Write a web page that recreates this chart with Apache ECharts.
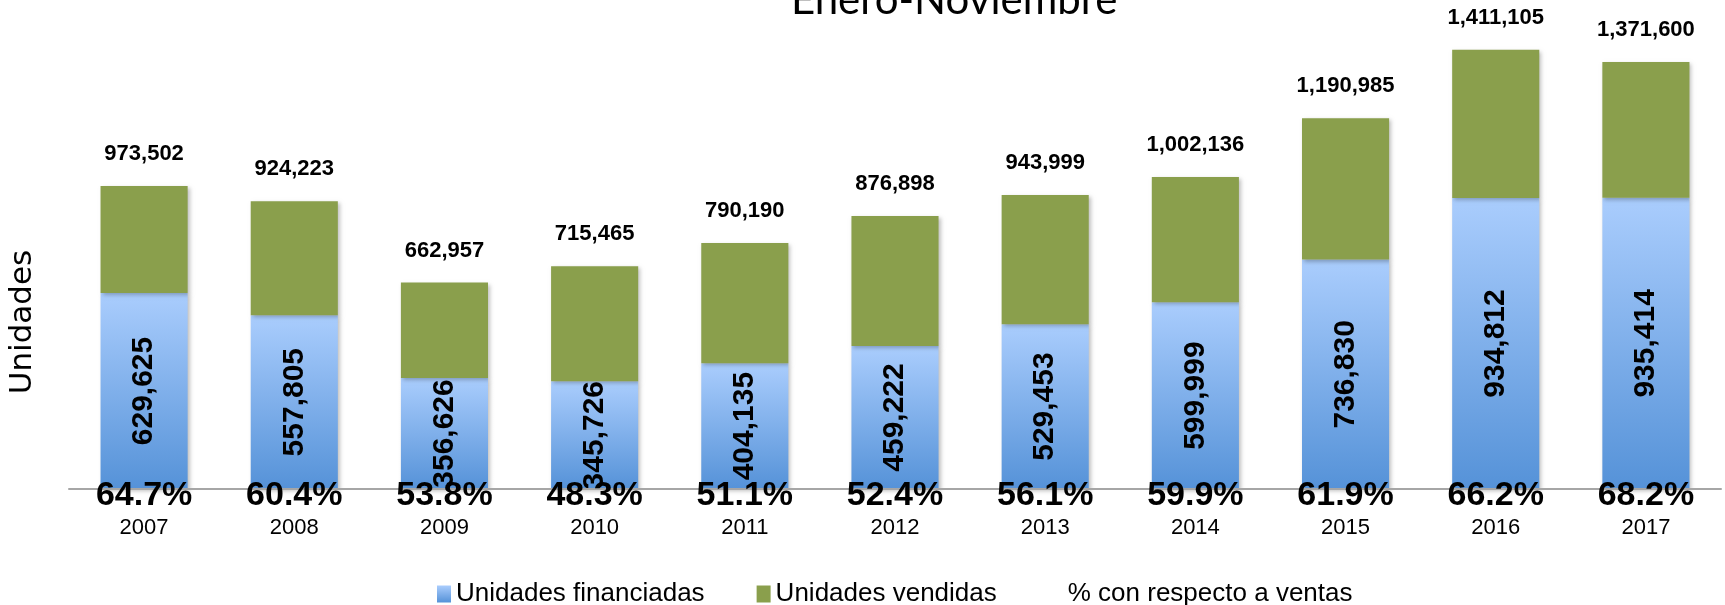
<!DOCTYPE html>
<html>
<head>
<meta charset="utf-8">
<script src="https://cdn.jsdelivr.net/npm/echarts@6/dist/echarts.min.js"></script>
<style>
html, body { margin: 0; padding: 0; background: #ffffff; }
#chart { width: 1725px; height: 605px; }
</style>
</head>
<body>
<div id="chart"></div>
<script>
// datos
const years = ["2007", "2008", "2009", "2010", "2011", "2012", "2013", "2014", "2015", "2016", "2017"];
const financiadas = [629625, 557805, 356626, 345726, 404135, 459222, 529453, 599999, 736830, 934812, 935414];
const vendidas = [973502, 924223, 662957, 715465, 790190, 876898, 943999, 1002136, 1190985, 1411105, 1371600];
const porcentaje = [64.7, 60.4, 53.8, 48.3, 51.1, 52.4, 56.1, 59.9, 61.9, 66.2, 68.2];

const numFont = '"Liberation Sans", Arial, sans-serif';
const fmt = (v) => v.toLocaleString("en-US");

// la parte verde es lo vendido que no fue financiado
const resto = vendidas.map((v, i) => v - financiadas[i]);

const chart = echarts.init(document.getElementById("chart"));

const barShadow = {
  shadowColor: "rgba(0,0,0,0.25)",
  shadowBlur: 4,
  shadowOffsetX: 2,
  shadowOffsetY: 2,
};

const option = {
  backgroundColor: "#FFFFFF",
  animation: false,
  title: {
    text: "Enero-Noviembre",
    left: 786,
    top: -26,
    textStyle: {
      fontFamily: "Lato, sans-serif",
      fontWeight: "normal",
      fontSize: 42,
      color: "#000",
    },
  },
  graphic: [
    {
      type: "text",
      x: 7,
      y: 322,
      rotation: Math.PI / 2,
      style: {
        text: "Unidades",
        fontFamily: '"DejaVu Sans", sans-serif',
        fontSize: 31,
        fill: "#000",
        align: "center",
        verticalAlign: "top",
      },
    },
  ],
  legend: {
    left: 432,
    top: 576,
    itemWidth: 14,
    itemHeight: 17,
    itemGap: 52,
    textStyle: { fontFamily: numFont, fontSize: 26, color: "#000" },
    data: [
      { name: "Unidades financiadas", icon: "rect" },
      { name: "Unidades vendidas", icon: "rect" },
      { name: "% con respecto a ventas", icon: "rect", itemStyle: { color: "rgba(0,0,0,0)" } },
    ],
  },
  grid: {
    left: 69,
    right: 4,
    top: 22,
    bottom: 116,
  },
  xAxis: {
    type: "category",
    data: years,
    axisLine: { lineStyle: { color: "#A6A6A6", width: 2 } },
    axisTick: { show: false },
    axisLabel: {
      margin: -10,
      interval: 0,
      formatter: function (value, idx) {
        return "{p|" + porcentaje[idx].toFixed(1) + "%}\n{y|" + value + "}";
      },
      rich: {
        p: { fontFamily: numFont, fontWeight: "bold", fontSize: 34, lineHeight: 33, color: "#000" },
        y: { fontFamily: numFont, fontSize: 22, lineHeight: 32, color: "#000" },
      },
    },
    z: 10,
  },
  yAxis: {
    type: "value",
    min: 0,
    max: 1500000,
    show: false,
    splitLine: { show: false },
  },
  series: [
    {
      name: "Unidades financiadas",
      type: "bar",
      stack: "total",
      barWidth: "58%",
      data: financiadas,
      itemStyle: Object.assign({
        color: new echarts.graphic.LinearGradient(0, 0, 0, 1, [
          { offset: 0, color: "#AACDFD" },
          { offset: 1, color: "#5592D8" },
        ]),
      }, barShadow),
      label: {
        show: true,
        position: "inside",
        rotate: 90,
        fontFamily: numFont,
        fontWeight: "bold",
        fontSize: 30,
        color: "#000",
        formatter: (p) => fmt(p.value),
      },
    },
    {
      name: "Unidades vendidas",
      type: "bar",
      stack: "total",
      data: resto,
      itemStyle: Object.assign({ color: "#8A9F4C" }, barShadow),
      label: {
        show: true,
        position: "top",
        distance: 21,
        fontFamily: numFont,
        fontWeight: "bold",
        fontSize: 22,
        color: "#000",
        formatter: (p) => fmt(vendidas[p.dataIndex]),
      },
    },
    {
      name: "% con respecto a ventas",
      type: "line",
      data: [],
      symbol: "none",
      lineStyle: { opacity: 0 },
    },
  ],
};

chart.setOption(option);
</script>
</body>
</html>
